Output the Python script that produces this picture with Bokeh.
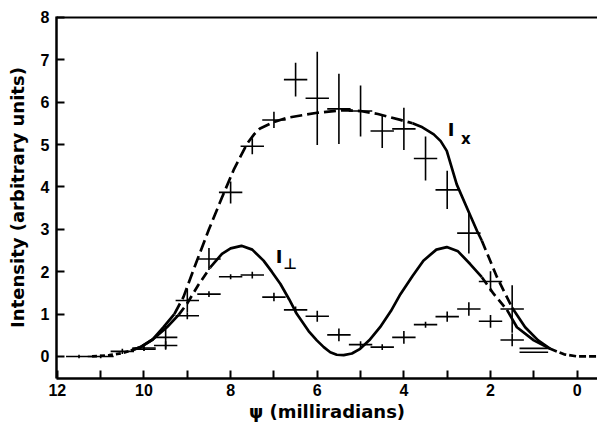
from bokeh.plotting import figure
from bokeh.models import Range1d, FixedTicker, Span, ColumnDataSource
from bokeh.core.properties import value
from bokeh.embed import file_html
from bokeh.resources import INLINE

# ---------------- data ----------------
# I_x measured points (x in milliradians, intensity, vertical half error, horizontal half width)
ix_x = [11.5, 11.0, 10.5, 10.0, 9.5, 9.0, 8.5, 8.0, 7.5, 7.0, 6.5, 6.0, 5.5, 5.0, 4.5, 4.0, 3.5, 3.0, 2.5, 2.0, 1.5, 1.0]
ix_y = [0.0, 0.0, 0.12, 0.20, 0.45, 1.32, 2.30, 3.87, 4.96, 5.58, 6.53, 6.09, 5.84, 5.79, 5.32, 5.37, 4.67, 3.93, 2.91, 1.77, 1.12, 0.19]
ix_yerr = [0.04, 0.04, 0.06, 0.06, 0.27, 0.28, 0.26, 0.26, 0.19, 0.19, 0.40, 1.10, 0.83, 0.60, 0.40, 0.50, 0.52, 0.45, 0.48, 0.24, 0.56, 0.0]
ix_xerr = [0.30, 0.30, 0.27, 0.27, 0.27, 0.27, 0.27, 0.27, 0.27, 0.27, 0.27, 0.27, 0.27, 0.27, 0.27, 0.27, 0.27, 0.27, 0.27, 0.27, 0.27, 0.33]

# I_perp measured points
ip_x = [10.0, 9.5, 9.0, 8.5, 8.0, 7.5, 7.0, 6.5, 6.0, 5.5, 5.0, 4.5, 4.0, 3.5, 3.0, 2.5, 2.0, 1.5, 1.0]
ip_y = [0.17, 0.26, 0.96, 1.47, 1.88, 1.92, 1.40, 1.10, 0.95, 0.51, 0.28, 0.22, 0.45, 0.75, 0.94, 1.12, 0.83, 0.39, 0.10]
ip_yerr = [0.04, 0.10, 0.08, 0.07, 0.06, 0.08, 0.10, 0.08, 0.13, 0.15, 0.08, 0.07, 0.15, 0.07, 0.12, 0.16, 0.15, 0.15, 0.0]
ip_xerr = [0.27] * 18 + [0.33]

# I_x theoretical curve
cx_x = [11.2, 10.8, 10.5, 10.3, 10.08, 9.8, 9.55, 9.3, 9.09, 8.8, 8.5, 8.2, 7.93, 7.62, 7.45, 7.32, 7.0, 6.7,
        6.0, 5.4, 5.0, 4.6, 4.08, 3.8, 3.6, 3.31, 3.15, 3.01, 2.78, 2.5, 2.31, 2.2, 1.85, 1.5, 1.2, 0.9, 0.62,
        0.3, 0.0, -0.5]
cx_y = [0.0, 0.03, 0.08, 0.14, 0.22, 0.40, 0.69, 1.0, 1.40, 2.2, 3.0, 3.75, 4.40, 5.02, 5.25, 5.38, 5.53, 5.63,
        5.75, 5.81, 5.79, 5.72, 5.58, 5.50, 5.42, 5.24, 5.08, 4.85, 4.06, 3.40, 2.96, 2.73, 1.87, 1.15, 0.69, 0.38, 0.18,
        0.05, 0.0, 0.0]
# (start index, end index, dash) pieces of the I_x curve
cx_pieces = [(0, 3, "5 3"), (3, 7, "solid"), (7, 23, "12 5"), (23, 31, "solid"), (31, 33, "10 5"),
             (33, 36, "solid"), (36, 39, "7 3")]

# I_perp theoretical curve
cp_x = [10.3, 10.08, 9.8, 9.47, 9.2, 9.01, 8.75, 8.47, 8.2, 8.0, 7.75, 7.5, 7.24, 7.05, 6.85, 6.65, 6.47,
        6.2, 6.01, 5.85, 5.70, 5.55, 5.39, 5.2, 5.01, 4.8, 4.55, 4.3, 4.08, 3.8, 3.55, 3.25, 3.01, 2.75, 2.47,
        2.2, 1.93, 1.62, 1.39, 1.0, 0.62]
cp_y = [0.14, 0.22, 0.40, 0.69, 0.98, 1.24, 1.68, 2.10, 2.42, 2.55, 2.61, 2.52, 2.26, 2.00, 1.71, 1.35, 1.0,
        0.6, 0.38, 0.22, 0.10, 0.04, 0.03, 0.07, 0.18, 0.38, 0.69, 1.07, 1.47, 1.90, 2.26, 2.52, 2.58, 2.48, 2.18,
        1.87, 1.48, 1.10, 0.69, 0.38, 0.18]
cp_pieces = [(0, 4, "solid"), (4, 7, "9 5"), (7, 35, "solid"), (35, 37, "9 5"), (37, 40, "solid")]

x_major = [12, 10, 8, 6, 4, 2, 0]
x_minor = [11, 9, 7, 5, 3, 1]
y_major = [0, 1, 2, 3, 4, 5, 6, 7, 8]

FONT = "DejaVu Sans"
TICK_FONT = "Liberation Sans"

# ---------------- figure ----------------
p = figure(width=597, height=425, output_backend="svg", toolbar_location=None,
           x_range=Range1d(12.02, -0.47), y_range=Range1d(-0.52, 8.02),
           min_border_left=56, min_border_right=0, min_border_top=16, min_border_bottom=47)
p.outline_line_color = None
p.grid.visible = False
p.background_fill_color = "white"

for ax in (p.xaxis[0], p.yaxis[0]):
    ax.axis_line_width = 2.5
    ax.axis_line_color = "black"
    ax.major_tick_in = 8
    ax.major_tick_out = 0
    ax.minor_tick_in = 8
    ax.minor_tick_out = 0
    ax.major_tick_line_width = 2
    ax.minor_tick_line_width = 2
    ax.major_label_text_font = TICK_FONT
    ax.major_label_text_font_style = "bold"
    ax.major_label_text_font_size = "16px"
    ax.major_label_text_color = "black"
    ax.axis_label_text_font = FONT
    ax.axis_label_text_font_style = "bold"
    ax.axis_label_text_font_size = "18px"
    ax.axis_label_text_color = "black"

p.xaxis[0].ticker = FixedTicker(ticks=x_major, minor_ticks=x_minor)
p.yaxis[0].ticker = FixedTicker(ticks=y_major, minor_ticks=[])
p.xaxis[0].axis_label = "ψ (milliradians)"
p.yaxis[0].axis_label = "Intensity (arbitrary units)"
p.xaxis[0].major_label_standoff = 5
p.xaxis[0].axis_label_standoff = 2
p.yaxis[0].major_label_standoff = 7
p.yaxis[0].axis_label_standoff = 10

p.add_layout(Span(location=8, dimension="width", line_color="black", line_width=2.5))

# curves
for xs, ys, pieces in ((cx_x, cx_y, cx_pieces), (cp_x, cp_y, cp_pieces)):
    for i0, i1, dash in pieces:
        p.line(xs[i0:i1 + 1], ys[i0:i1 + 1], line_color="black", line_width=2.7,
               line_dash=dash, line_cap="butt", line_join="round")

# error-bar crosses
for xs, ys, ye, xe in ((ix_x, ix_y, ix_yerr, ix_xerr), (ip_x, ip_y, ip_yerr, ip_xerr)):
    src = ColumnDataSource(dict(
        x=xs, y=ys,
        x0=[a - b for a, b in zip(xs, xe)], x1=[a + b for a, b in zip(xs, xe)],
        y0=[a - b for a, b in zip(ys, ye)], y1=[a + b for a, b in zip(ys, ye)]))
    p.segment(x0="x0", y0="y", x1="x1", y1="y", source=src, line_color="black", line_width=1.6)
    p.segment(x0="x", y0="y0", x1="x", y1="y1", source=src, line_color="black", line_width=1.6)

# curve labels
p.text(x=[2.91], y=[5.36], text=["I"], text_font=value(FONT), text_font_style="bold",
       text_font_size="18px", text_align="center", text_baseline="middle", text_color="black")
p.text(x=[2.57], y=[5.12], text=["x"], text_font=value(FONT), text_font_style="bold",
       text_font_size="15px", text_align="center", text_baseline="middle", text_color="black")
p.text(x=[6.88], y=[2.35], text=["I"], text_font=value(FONT), text_font_style="bold",
       text_font_size="18px", text_align="center", text_baseline="middle", text_color="black")
p.text(x=[6.62], y=[2.17], text=["⊥"], text_font=value(FONT), text_font_style="bold",
       text_font_size="15px", text_align="center", text_baseline="middle", text_color="black")

open("out.html", "w").write(file_html(p, INLINE))
